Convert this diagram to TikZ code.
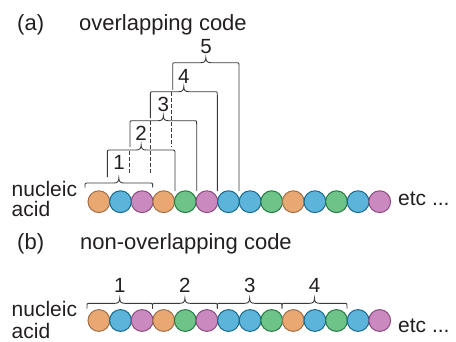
\documentclass[tikz,border=0pt]{standalone}
\usepackage{fontspec}
\setmainfont{Liberation Sans}
\definecolor{txt}{HTML}{231F20}
\definecolor{ln}{HTML}{3A3A3A}
\definecolor{cO}{HTML}{E9A872}
\definecolor{dO}{HTML}{A06F47}
\definecolor{cB}{HTML}{5DB4DB}
\definecolor{dB}{HTML}{17698C}
\definecolor{cP}{HTML}{CB8ABF}
\definecolor{dP}{HTML}{8A4A80}
\definecolor{cG}{HTML}{6DC388}
\definecolor{dG}{HTML}{257A45}
\newcommand\tbrace[5]{%
  \draw[br] (#1,#4) -- (#1,#3+3.5) .. controls (#1,#3) .. (#1+3.5,#3)
    -- ({(#1+#2)/2-5},#3) .. controls ({(#1+#2)/2-1.5},#3) and ({(#1+#2)/2},#3-1.5) .. ({(#1+#2)/2},#3-5)
    .. controls ({(#1+#2)/2},#3-1.5) and ({(#1+#2)/2+1.5},#3) .. ({(#1+#2)/2+5},#3)
    -- (#2-3.5,#3) .. controls (#2,#3) .. (#2,#3+3.5) -- (#2,#5);}
\begin{document}
\begin{tikzpicture}[x=1pt,y=-1pt,
  lbl/.style={anchor=base west, inner sep=0, font=\fontsize{21}{21}\selectfont, text=txt},
  ttl/.style={lbl, font=\fontsize{22}{22}\selectfont},
  num/.style={anchor=base, inner sep=0, font=\fontsize{20.5}{20.5}\selectfont, text=txt},
  br/.style={draw=ln, line width=0.9pt},
  dsh/.style={draw=ln, line width=0.8pt, dash pattern=on 3.5pt off 2.5pt},
  bead/.style={circle, minimum size=21.8pt, inner sep=0, line width=1pt}]
\useasboundingbox (0,0) rectangle (456,341);
% titles
\node[ttl] (ta) at (17,30.5) {(a)};
\node[ttl] (tat) at (79,30.5) {overlapping code};
\node[ttl] (tb) at (17,249) {(b)};
\node[ttl] (tbt) at (80,249) {non-overlapping code};
% labels row a
\node[lbl] (na1) at (11.5,196) {nucleic};
\node[lbl] (na2) at (11.5,216.7) {acid};
\node[lbl] (ea) at (398,205.5) {etc ...};
% labels row b
\node[lbl] (nb1) at (11.5,316.7) {nucleic};
\node[lbl] (nb2) at (11.5,338) {acid};
\node[lbl] (eb) at (398,332) {etc ...};
% overlapping braces
\tbrace{85}{152.7}{183}{187.5}{187.5}
\tbrace{107.3}{175}{150}{177}{191}
\tbrace{130}{196.7}{120.7}{147}{191}
\tbrace{150.3}{217.3}{91.7}{118}{191}
\tbrace{172.7}{239}{62.7}{90}{191}
\draw[dsh] (129.3,151) -- (129.3,173);
\draw[dsh] (150.3,121) -- (150.3,173);
\draw[dsh] (171.8,92) -- (171.8,147);
\node[num] (a1) at (119,169.3) {1};
\node[num] (a2) at (141,140.7) {2};
\node[num] (a3) at (163.4,111.7) {3};
\node[num] (a4) at (183.8,83) {4};
\node[num] (a5) at (206,53) {5};
% non-overlapping braces
\tbrace{87}{152.5}{303.3}{308.5}{308.5}
\tbrace{152.5}{217.3}{303.3}{308.5}{308.5}
\tbrace{217.3}{282}{303.3}{308.5}{308.5}
\tbrace{282}{347}{303.3}{308.5}{308.5}
\node[num] (b1) at (119.8,292) {1};
\node[num] (b2) at (184.9,292) {2};
\node[num] (b3) at (249.7,292) {3};
\node[num] (b4) at (314.5,292) {4};
% beads
\foreach \c [count=\i] in {O,B,P,O,G,P,B,B,G,O,B,G,B,P} {
  \node[bead, fill=c\c, draw=d\c] (ra\i) at ({98.9+(\i-1)*21.6},201.7) {};
  \node[bead, fill=c\c, draw=d\c] (rb\i) at ({98.9+(\i-1)*21.6},320.5) {};
}
\end{tikzpicture}
\end{document}
